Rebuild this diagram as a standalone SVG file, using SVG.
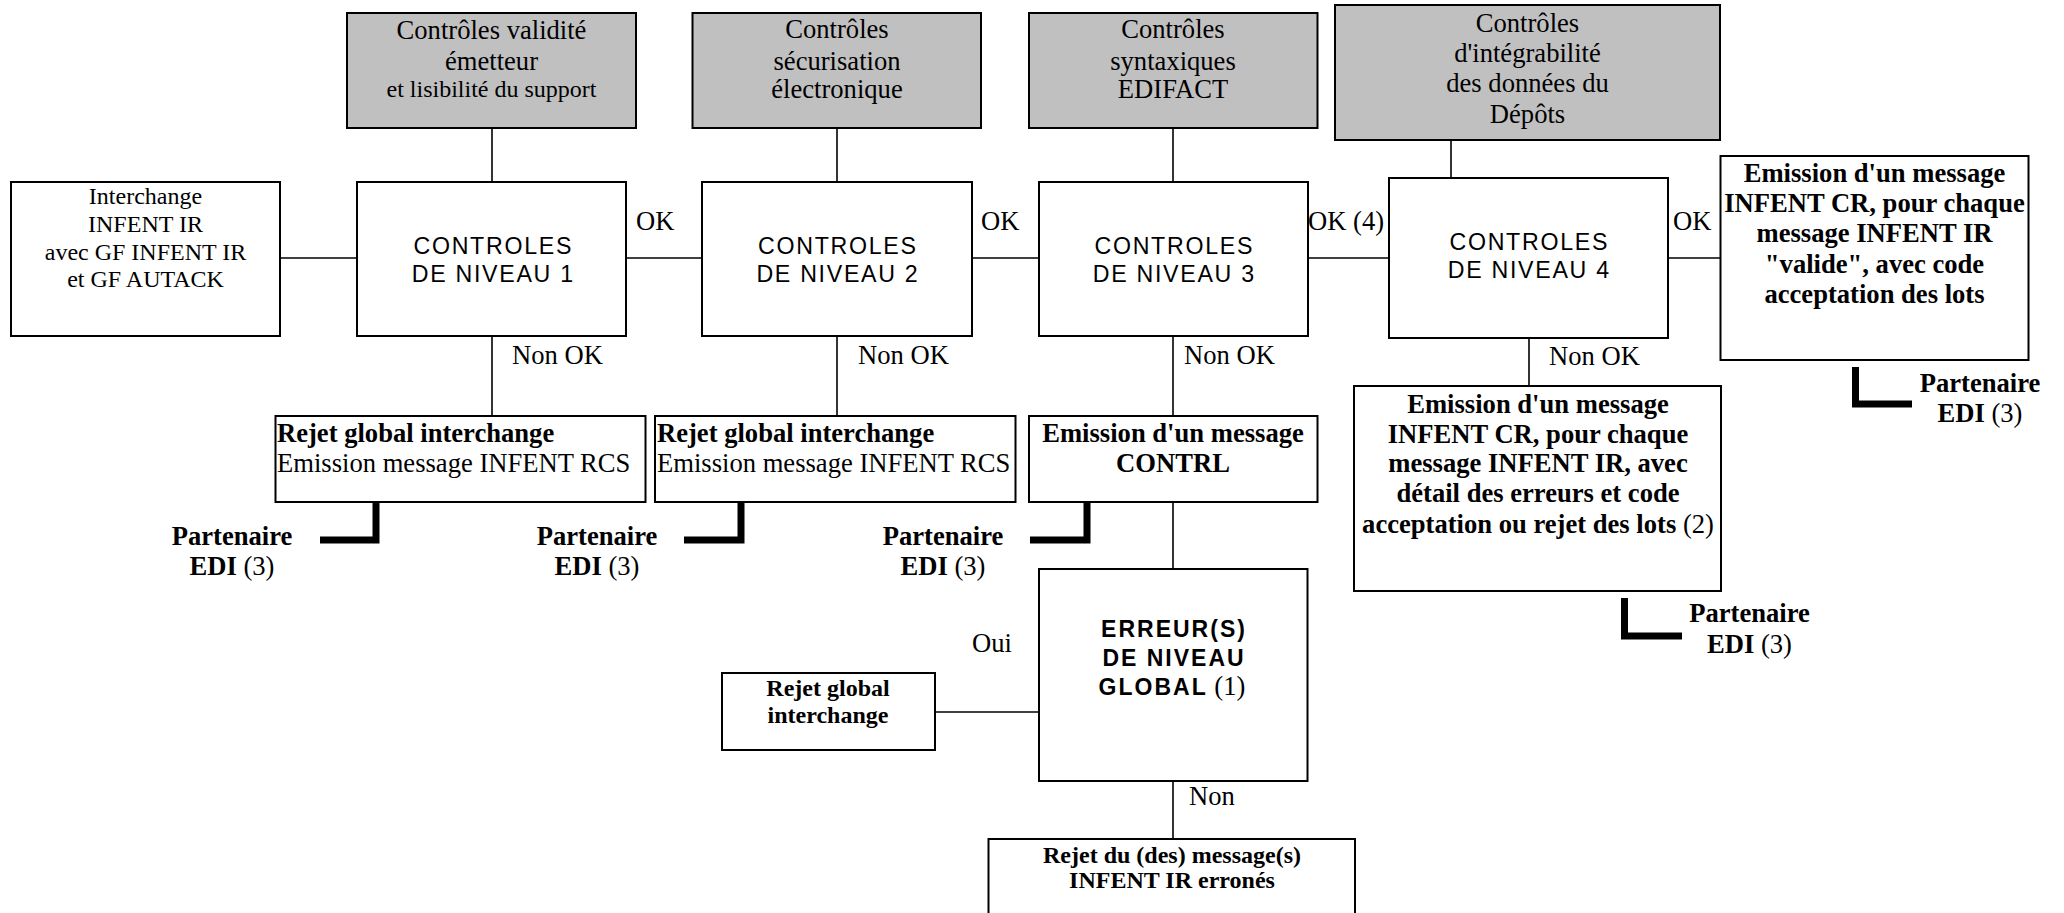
<svg xmlns="http://www.w3.org/2000/svg" width="2064" height="913" viewBox="0 0 2064 913">
<style>
.box{fill:#fff;stroke:#000;stroke-width:2}
.gray{fill:#c0c0c0;stroke:#000;stroke-width:2}
.ln{stroke:#000;stroke-width:1.6;fill:none}
.thick{stroke:#000;stroke-width:7;fill:none;stroke-linejoin:miter;stroke-linecap:butt}
.t{font-family:"Liberation Serif","Times New Roman",serif;font-size:26.6px;fill:#000}
.s{font-size:24px}
.b{font-weight:bold}
.c{text-anchor:middle}
.a{font-family:"Liberation Sans",Arial,sans-serif;font-size:23.2px;letter-spacing:1.7px;fill:#000;text-anchor:middle}
.ab{font-family:"Liberation Sans",Arial,sans-serif;font-size:23px;font-weight:bold;letter-spacing:2px;fill:#000;text-anchor:middle}
</style>
<rect width="2064" height="913" fill="#fff"/>
<g id="connectors">
<line class="ln" x1="492" y1="128" x2="492" y2="182"/>
<line class="ln" x1="837" y1="128" x2="837" y2="182"/>
<line class="ln" x1="1173" y1="128" x2="1173" y2="182"/>
<line class="ln" x1="1451" y1="140" x2="1451" y2="178"/>
<line class="ln" x1="280" y1="258" x2="357" y2="258"/>
<line class="ln" x1="626" y1="258" x2="702" y2="258"/>
<line class="ln" x1="972" y1="258" x2="1039" y2="258"/>
<line class="ln" x1="1308" y1="258" x2="1389" y2="258"/>
<line class="ln" x1="1668" y1="258" x2="1720" y2="258"/>
<line class="ln" x1="492" y1="336" x2="492" y2="416"/>
<line class="ln" x1="837" y1="336" x2="837" y2="416"/>
<line class="ln" x1="1173" y1="336" x2="1173" y2="416"/>
<line class="ln" x1="1529" y1="338" x2="1529" y2="386"/>
<line class="ln" x1="1173" y1="502" x2="1173" y2="569"/>
<line class="ln" x1="935" y1="712" x2="1039" y2="712"/>
<line class="ln" x1="1173" y1="781" x2="1173" y2="839"/>
<path class="thick" d="M320 540 H376 V502"/>
<path class="thick" d="M684 540 H741 V502"/>
<path class="thick" d="M1030 540 H1087 V502"/>
<path class="thick" d="M1624.5 598 V636 H1682"/>
<path class="thick" d="M1855.5 367 V404 H1912"/>
<text class="t" x="636" y="230">OK</text>
<text class="t" x="981" y="230">OK</text>
<text class="t" x="1308" y="230">OK (4)</text>
<text class="t" x="1673" y="230">OK</text>
<text class="t" x="512" y="364">Non OK</text>
<text class="t" x="858" y="364">Non OK</text>
<text class="t" x="1184" y="364">Non OK</text>
<text class="t" x="1549" y="365">Non OK</text>
<text class="t" x="972" y="652">Oui</text>
<text class="t" x="1189" y="805">Non</text>
</g>
<g id="g1">
<rect class="gray" x="347" y="13" width="289" height="115"/>
<text class="t c" x="491.5" y="39">Contrôles validité</text>
<text class="t c" x="491.5" y="70">émetteur</text>
<text class="t s c" x="491.5" y="97">et lisibilité du support</text>
</g>
<g id="g2">
<rect class="gray" x="692.5" y="13" width="288.5" height="115"/>
<text class="t c" x="837" y="38">Contrôles</text>
<text class="t c" x="837" y="70">sécurisation</text>
<text class="t c" x="837" y="98">électronique</text>
</g>
<g id="g3">
<rect class="gray" x="1029" y="13" width="288.5" height="115"/>
<text class="t c" x="1173" y="38">Contrôles</text>
<text class="t c" x="1173" y="70">syntaxiques</text>
<text class="t c" x="1173" y="98">EDIFACT</text>
</g>
<g id="g4">
<rect class="gray" x="1335" y="5" width="385" height="135"/>
<text class="t c" x="1527.5" y="32">Contrôles</text>
<text class="t c" x="1527.5" y="62">d'intégrabilité</text>
<text class="t c" x="1527.5" y="92">des données du</text>
<text class="t c" x="1527.5" y="123">Dépôts</text>
</g>
<g id="interchange">
<rect class="box" x="11" y="182" width="269" height="154"/>
<text class="t s c" x="145.5" y="204">Interchange</text>
<text class="t s c" x="145.5" y="232">INFENT IR</text>
<text class="t s c" x="145.5" y="260">avec GF INFENT IR</text>
<text class="t s c" x="145.5" y="287">et GF AUTACK</text>
</g>
<g id="c1">
<rect class="box" x="357" y="182" width="269" height="154"/>
<text class="a" x="493.3" y="254">CONTROLES</text>
<text class="a" x="493.3" y="282">DE NIVEAU 1</text>
</g>
<g id="c2">
<rect class="box" x="702" y="182" width="270" height="154"/>
<text class="a" x="837.9" y="254">CONTROLES</text>
<text class="a" x="837.9" y="282">DE NIVEAU 2</text>
</g>
<g id="c3">
<rect class="box" x="1039" y="182" width="269" height="154"/>
<text class="a" x="1174.3" y="254">CONTROLES</text>
<text class="a" x="1174.3" y="282">DE NIVEAU 3</text>
</g>
<g id="c4">
<rect class="box" x="1389" y="178" width="279" height="160"/>
<text class="a" x="1529.3" y="250">CONTROLES</text>
<text class="a" x="1529.3" y="278">DE NIVEAU 4</text>
</g>
<g id="emission-ok">
<rect class="box" x="1720.5" y="156" width="308" height="204"/>
<text class="t b c" x="1874.5" y="182">Emission d'un message</text>
<text class="t b c" x="1874.5" y="212">INFENT CR, pour chaque</text>
<text class="t b c" x="1874.5" y="242">message INFENT IR</text>
<text class="t b c" x="1874.5" y="273">"valide", avec code</text>
<text class="t b c" x="1874.5" y="303">acceptation des lots</text>
</g>
<g id="rejet1">
<rect class="box" x="275.5" y="416" width="370" height="86"/>
<text class="t b" x="277" y="442">Rejet global interchange</text>
<text class="t" x="277" y="472">Emission message INFENT RCS</text>
</g>
<g id="rejet2">
<rect class="box" x="655" y="416" width="360.5" height="86"/>
<text class="t b" x="657" y="442">Rejet global interchange</text>
<text class="t" x="657" y="472">Emission message INFENT RCS</text>
</g>
<g id="contrl">
<rect class="box" x="1029" y="416" width="288.5" height="86"/>
<text class="t b c" x="1173" y="442">Emission d'un message</text>
<text class="t b c" x="1173" y="472">CONTRL</text>
</g>
<g id="emission-nok">
<rect class="box" x="1354" y="386" width="367" height="205"/>
<text class="t b c" x="1538" y="413">Emission d'un message</text>
<text class="t b c" x="1538" y="443">INFENT CR, pour chaque</text>
<text class="t b c" x="1538" y="472">message INFENT IR, avec</text>
<text class="t b c" x="1538" y="502">détail des erreurs et code</text>
<text class="t c" x="1538" y="533"><tspan class="b">acceptation ou rejet des lots</tspan> (2)</text>
</g>
<g id="partenaire1">
<text class="t b c" x="232" y="545">Partenaire</text>
<text class="t c" x="232" y="575"><tspan class="b">EDI</tspan> (3)</text>
</g>
<g id="partenaire2">
<text class="t b c" x="597" y="545">Partenaire</text>
<text class="t c" x="597" y="575"><tspan class="b">EDI</tspan> (3)</text>
</g>
<g id="partenaire3">
<text class="t b c" x="943" y="545">Partenaire</text>
<text class="t c" x="943" y="575"><tspan class="b">EDI</tspan> (3)</text>
</g>
<g id="partenaire4">
<text class="t b c" x="1749.5" y="622">Partenaire</text>
<text class="t c" x="1749.5" y="653"><tspan class="b">EDI</tspan> (3)</text>
</g>
<g id="partenaire5">
<text class="t b c" x="1980" y="392">Partenaire</text>
<text class="t c" x="1980" y="422"><tspan class="b">EDI</tspan> (3)</text>
</g>
<g id="erreur">
<rect class="box" x="1039" y="569" width="268.5" height="212"/>
<text class="ab" x="1174" y="637">ERREUR(S)</text>
<text class="ab" x="1174" y="666">DE NIVEAU</text>
<text class="ab" x="1172" y="695">GLOBAL<tspan style="font-family:'Liberation Serif','Times New Roman',serif;font-weight:normal;font-size:26.6px;letter-spacing:0"> (1)</tspan></text>
</g>
<g id="rejet-global">
<rect class="box" x="722" y="673" width="213" height="77"/>
<text class="t s b c" x="828" y="696">Rejet global</text>
<text class="t s b c" x="828" y="723">interchange</text>
</g>
<g id="rejet-messages">
<rect class="box" x="988.5" y="839" width="366.5" height="90"/>
<text class="t s b c" x="1172" y="863">Rejet du (des) message(s)</text>
<text class="t s b c" x="1172" y="888">INFENT IR erronés</text>
</g>
</svg>
